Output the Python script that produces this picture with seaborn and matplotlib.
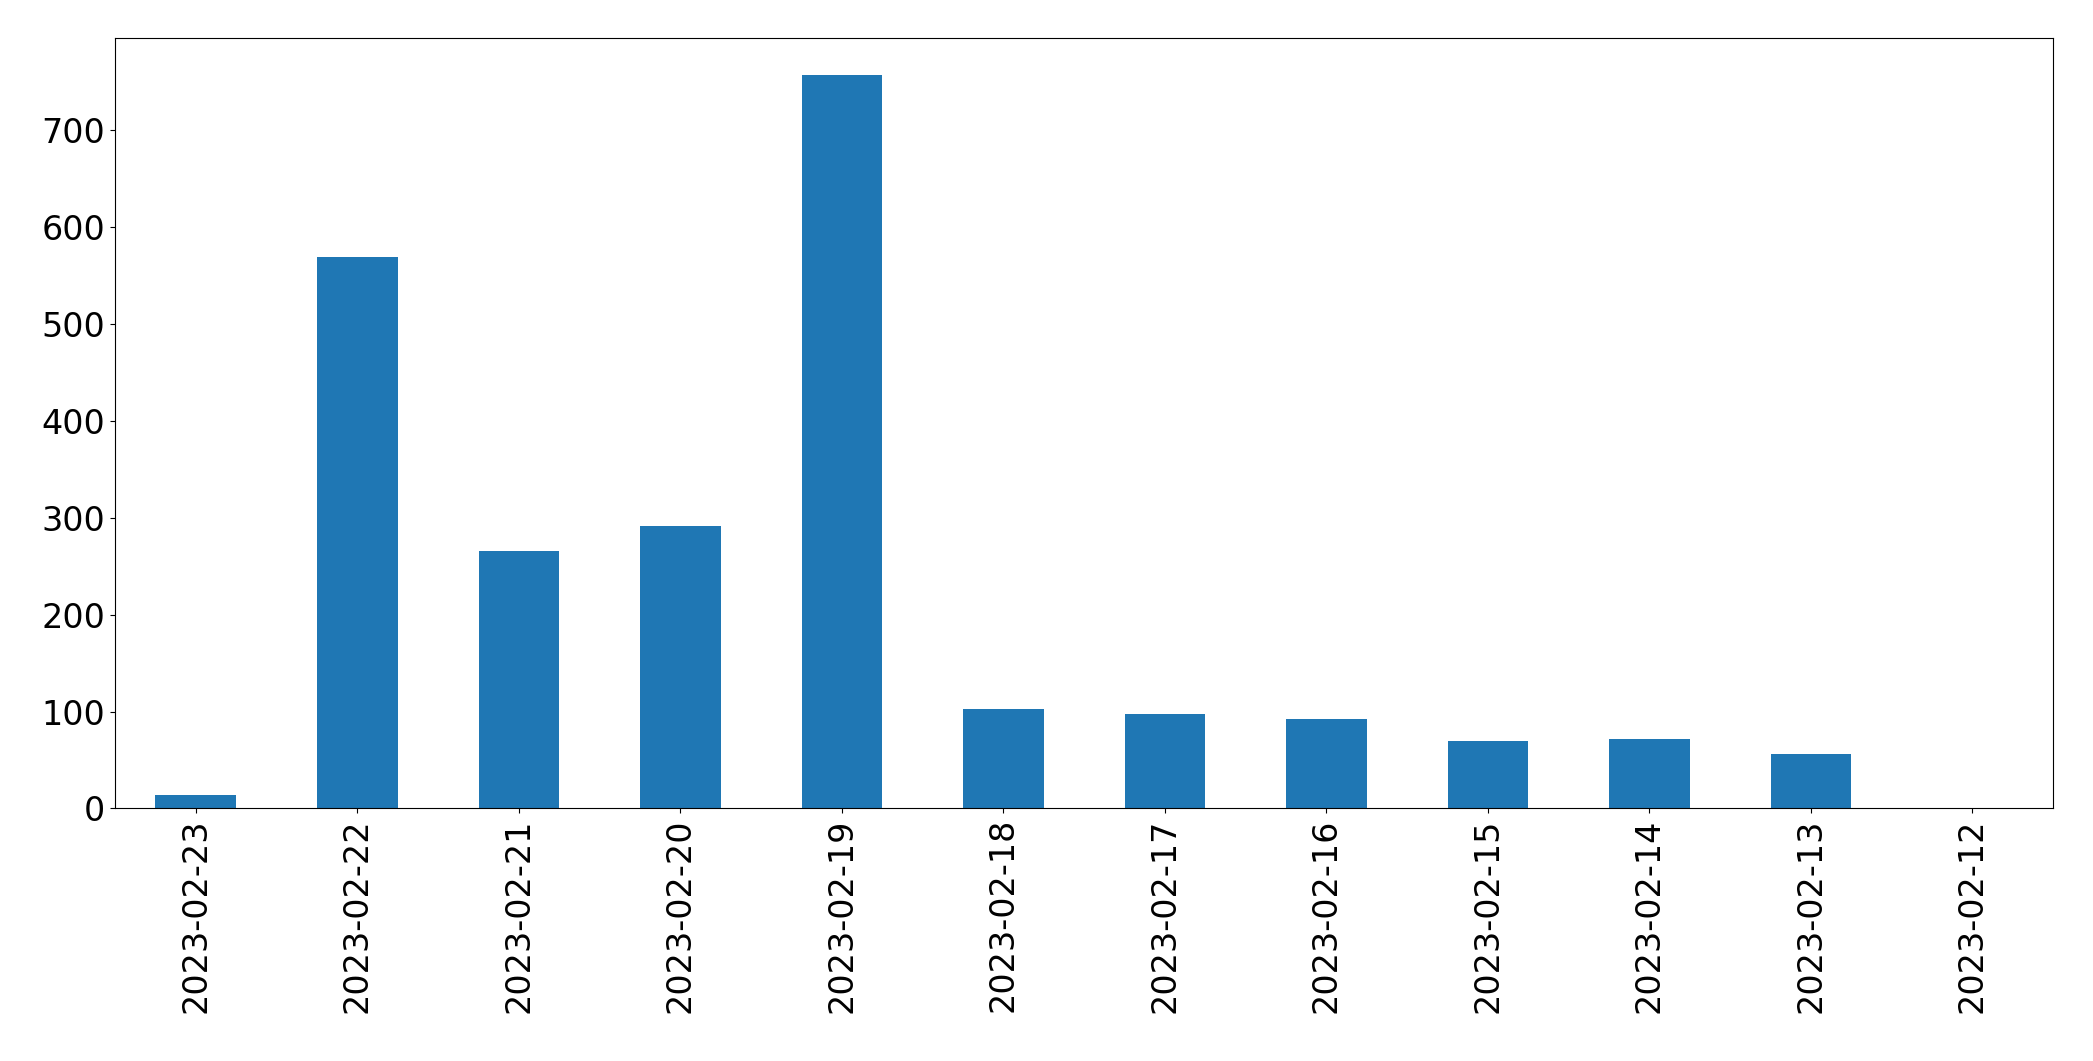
import matplotlib
matplotlib.use("Agg")
import matplotlib.pyplot as plt
import pandas as pd
import seaborn as sns

# contagem por dia
datas = ["2023-02-23", "2023-02-22", "2023-02-21", "2023-02-20", "2023-02-19", "2023-02-18",
         "2023-02-17", "2023-02-16", "2023-02-15", "2023-02-14", "2023-02-13", "2023-02-12"]
contagem = [14, 569, 266, 291, 757, 103, 98, 92, 70, 72, 56, 1]

df = pd.DataFrame({"data": datas, "contagem": contagem})

fig, ax = plt.subplots(figsize=(20.93, 10.61), dpi=100)
fig.subplots_adjust(left=0.055, right=0.981, top=0.964, bottom=0.238)

sns.barplot(data=df, x="data", y="contagem", color="#1f77b4", saturation=1, width=0.5, ax=ax)
ax.set_xlabel("")
ax.set_ylabel("")
ax.set_xlim(-0.5, len(datas) - 0.5)
ax.tick_params(axis="x", labelrotation=90, labelsize=24)
ax.tick_params(axis="y", labelsize=24)

plt.savefig("out.png")
